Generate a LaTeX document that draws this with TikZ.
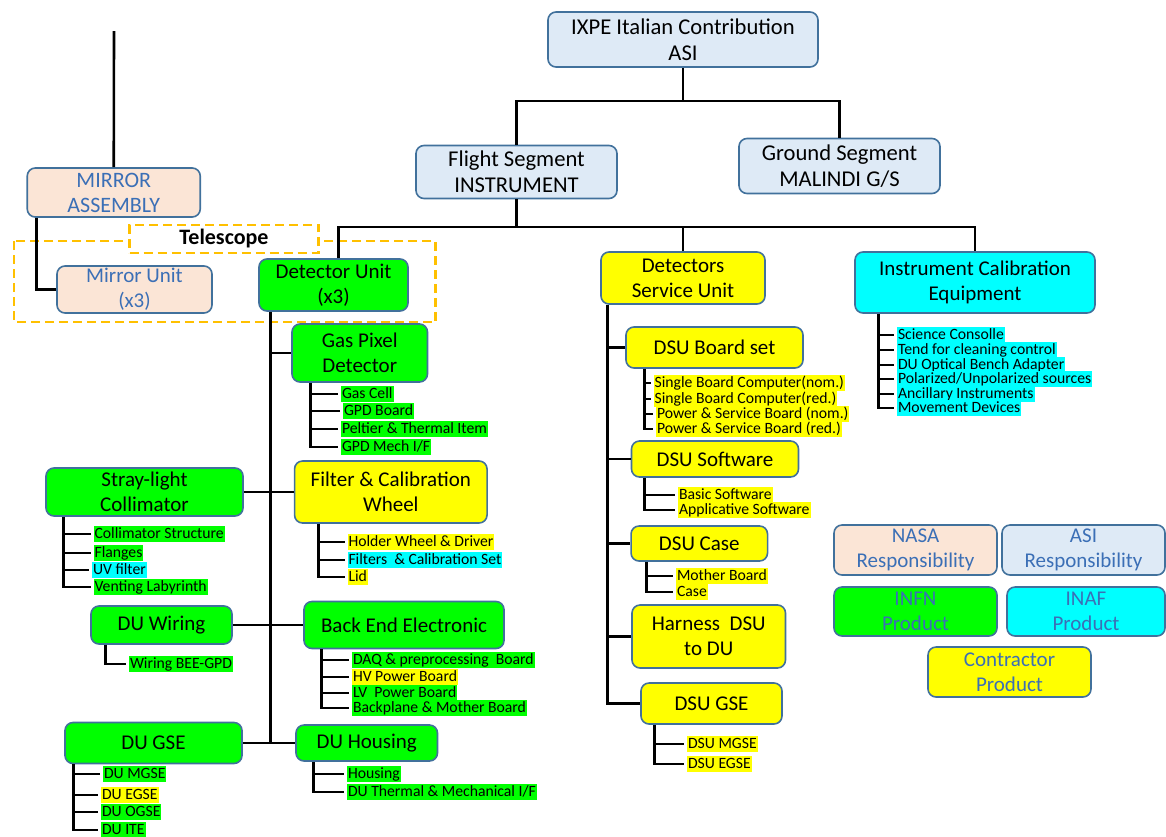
\documentclass[tikz,border=0pt]{standalone}
\usepackage{fontspec}
\setmainfont{Carlito}
\definecolor{boxline}{HTML}{41719C}
\definecolor{asiblue}{HTML}{DEEAF6}
\definecolor{nasapeach}{HTML}{FBE5D6}
\definecolor{infngreen}{HTML}{00FF00}
\definecolor{contryellow}{HTML}{FFFF00}
\definecolor{inafcyan}{HTML}{00FFFF}
\definecolor{legblue}{HTML}{3B6FB6}
\definecolor{teleorange}{HTML}{FFC000}
\newcommand\wbsfont{\fontsize{21}{25}\selectfont}
\newcommand\topfont{\fontsize{22.6}{26}\selectfont}
\newcommand\itemfont{\fontsize{15.7}{15.7}\selectfont}
\tikzset{
  wbs/.style={draw=boxline, line width=1.6pt, rounded corners=8pt, align=center, font=\wbsfont, inner sep=1pt},
  wh/.style 2 args={minimum width=#1pt, minimum height=#2pt},
  asibox/.style={wbs, fill=asiblue},
  nasabox/.style={wbs, fill=nasapeach},
  infnbox/.style={wbs, fill=infngreen},
  contrbox/.style={wbs, fill=contryellow},
  inafbox/.style={wbs, fill=inafcyan},
  item/.style={anchor=west, font=\itemfont, inner xsep=1pt, inner ysep=0pt, text height=12pt, text depth=4pt, outer xsep=3pt},
  tree/.style={line width=2.6pt},
  telebox/.style={draw=teleorange, line width=2.6pt, dash pattern=on 9pt off 5pt},
}
\begin{document}
\begin{tikzpicture}[x=1pt,y=-1pt]
\useasboundingbox (0,0) rectangle (1166,836);
% telescope frame
\draw[telebox] (14,241) rectangle (435.5,322);
\node[telebox, fill=white, wh={189}{28}, inner sep=0pt, font=\fontsize{22}{26}\selectfont\bfseries] (tele) at (224,239) {Telescope};
% top levels
\node[asibox, font=\topfont, wh={270}{55}] (ixpe) at (683,39.5) {IXPE Italian Contribution\\ASI};
\node[asibox, font=\topfont, wh={201}{53}] (flight) at (516.5,172) {Flight Segment\\INSTRUMENT};
\node[asibox, font=\topfont, wh={201}{55}] (ground) at (839.5,166) {Ground Segment\\MALINDI G/S};
% mirror and detector units
\node[nasabox, text=legblue, font=\fontsize{22}{25}\selectfont, wh={173}{49}] (massy) at (113.75,192.5) {MIRROR\\ASSEMBLY};
\node[nasabox, text=legblue, wh={155}{47}] (munit) at (134.5,289.5) {Mirror Unit\\(x3)};
\node[infnbox, wh={149}{52}] (du) at (333.5,285) {Detector Unit\\(x3)};
% detector unit parts
\node[infnbox, wh={135.5}{58}] (gpd) at (359.75,353) {Gas Pixel\\Detector};
\node[contrbox, wh={192.5}{62}] (fcw) at (390.8,492) {Filter \& Calibration\\Wheel};
\node[infnbox, wh={197}{48}] (stray) at (144.5,492) {Stray-light\\Collimator};
\node[infnbox, wh={141}{38}] (duwir) at (161.5,625) {DU Wiring};
\node[infnbox, wh={200}{47}] (bee) at (404,625) {Back End Electronic};
\node[infnbox, wh={177}{41}] (dugse) at (153.5,743) {DU GSE};
\node[infnbox, wh={141.5}{36}] (duhou) at (366.75,743) {DU Housing};
% detectors service unit
\node[contrbox, wh={164}{52}] (dsu) at (683,278) {Detectors\\Service Unit};
\node[contrbox, wh={177}{41}] (dsubs) at (714.5,347.5) {DSU Board set};
\node[contrbox, wh={167}{36}] (dsusw) at (715,459) {DSU Software};
\node[contrbox, wh={136.5}{35}] (dsucase) at (699.3,543.5) {DSU Case};
\node[contrbox, wh={153.5}{63}] (harn) at (708.75,636.5) {Harness\ \ DSU\\to DU};
\node[contrbox, wh={141}{41}] (dsugse) at (711.5,703.5) {DSU GSE};
% calibration equipment
\node[inafbox, wh={240}{61}] (ice) at (975,282.5) {Instrument Calibration\\Equipment};
% legend
\node[nasabox, text=legblue, wh={163}{50}] (legnasa) at (915.5,550) {NASA\\Responsibility};
\node[asibox, text=legblue, wh={163}{50}] (legasi) at (1083.5,550) {ASI\\Responsibility};
\node[infnbox, text=legblue, wh={163}{49}] (leginfn) at (915.5,611.5) {INFN\\Product};
\node[inafbox, text=legblue, wh={158}{49}] (leginaf) at (1086,611.5) {INAF\\Product};
\node[contrbox, text=legblue, wh={163}{50}] (legcontr) at (1009.5,672) {Contractor\\Product};

% item lists
\node[item, fill=infngreen] (gpd1) at (338,394) {Gas Cell};
\node[item, fill=infngreen] (gpd2) at (340,411) {GPD Board};
\node[item, fill=infngreen] (gpd3) at (338,429) {Peltier \& Thermal Item};
\node[item, fill=infngreen] (gpd4) at (338,447) {GPD Mech I/F};
\node[item, fill=contryellow] (fcw1) at (344.5,542) {Holder Wheel \& Driver};
\node[item, fill=inafcyan] (fcw2) at (344.5,560) {Filters\ \ \& Calibration Set};
\node[item, fill=contryellow] (fcw3) at (344.5,577) {Lid};
\node[item, fill=infngreen] (str1) at (90.6,534) {Collimator Structure};
\node[item, fill=infngreen] (str2) at (90.6,553) {Flanges};
\node[item, fill=inafcyan] (str3) at (89,570) {UV filter};
\node[item, fill=infngreen] (str4) at (90.6,587) {Venting Labyrinth};
\node[item, fill=infngreen] (wir1) at (126,664) {Wiring BEE-GPD};
\node[item, fill=infngreen] (bee1) at (349,660) {DAQ \& preprocessing\ \ Board};
\node[item, fill=contryellow] (bee2) at (349,677) {HV Power Board};
\node[item, fill=infngreen] (bee3) at (349,693) {LV\ \ Power Board};
\node[item, fill=infngreen] (bee4) at (349,708) {Backplane \& Mother Board};
\node[item, fill=infngreen] (gse1) at (100,774) {DU MGSE};
\node[item, fill=contryellow] (gse2) at (98,795) {DU EGSE};
\node[item, fill=infngreen] (gse3) at (98,812) {DU OGSE};
\node[item, fill=infngreen] (gse4) at (98,830) {DU ITE};
\node[item, fill=infngreen] (hou1) at (344,774) {Housing};
\node[item, fill=infngreen] (hou2) at (344,792) {DU Thermal \& Mechanical I/F};
\node[item, fill=contryellow] (bs1) at (650.6,383) {Single Board Computer(nom.)};
\node[item, fill=contryellow] (bs2) at (650.6,399) {Single Board Computer(red.)};
\node[item, fill=contryellow] (bs3) at (653,414) {Power \& Service Board (nom.)};
\node[item, fill=contryellow] (bs4) at (653,429) {Power \& Service Board (red.)};
\node[item, fill=contryellow] (sw1) at (675,495) {Basic Software};
\node[item, fill=contryellow] (sw2) at (675,510) {Applicative Software};
\node[item, fill=contryellow] (cs1) at (673,576) {Mother Board};
\node[item, fill=contryellow] (cs2) at (673,592) {Case};
\node[item, fill=contryellow] (dg1) at (684,744) {DSU MGSE};
\node[item, fill=contryellow] (dg2) at (684,764) {DSU EGSE};
\node[item, fill=inafcyan] (ice1) at (894,335) {Science Consolle};
\node[item, fill=inafcyan] (ice2) at (894,350) {Tend for cleaning control};
\node[item, fill=inafcyan] (ice3) at (894,365) {DU Optical Bench Adapter};
\node[item, fill=inafcyan] (ice4) at (894,379) {Polarized/Unpolarized sources};
\node[item, fill=inafcyan] (ice5) at (894,394) {Ancillary Instruments};
\node[item, fill=inafcyan] (ice6) at (894,408) {Movement Devices};

% upper tree
\coordinate (mtop) at (114,31);
\coordinate (topbar) at (683,101);
\coordinate (midbar) at (516.5,227);
\draw[tree] (mtop) -- (massy.north);
\draw[tree] (ixpe.south) -- (topbar);
\draw[tree] (flight.north) |- (topbar) -| (ground.north);
\draw[tree] (flight.south) -- (midbar);
\draw[tree] ([xshift=5]du.north) |- (midbar) -| (ice.north);
\draw[tree] (dsu.north) -- (dsu.north |- midbar);
\draw[tree] ([xshift=10]massy.south west) |- (munit.west);

% detector unit branches
\coordinate (duT) at ([xshift=12]du.south west);
\draw[tree] (duT) -- (duT |- dugse.east);
\draw[tree] (duT |- gpd.west) -- (gpd.west);
\draw[tree] (stray.east) -- (fcw.west);
\draw[tree] (duwir.east) -- (duwir.east -| bee.west);
\draw[tree] (dugse.east) -- (dugse.east -| duhou.west);

% DSU branches
\coordinate (dsuT) at ([xshift=7]dsu.south west);
\draw[tree] (dsuT) |- (dsugse.west);
\foreach \n in {dsubs,dsusw,dsucase,harn}
  \draw[tree] (dsuT |- \n.west) -- (\n.west);

% item ticks
\coordinate (gpdT) at ([xshift=19]gpd.south west);
\draw[tree] (gpdT) |- (gpd4.west);
\foreach \i in {1,2,3} \draw[tree] (gpdT |- gpd\i.west) -- (gpd\i.west);
\coordinate (fcwT) at ([xshift=24.5]fcw.south west);
\draw[tree] (fcwT) |- (fcw3.west);
\foreach \i in {1,2} \draw[tree] (fcwT |- fcw\i.west) -- (fcw\i.west);
\coordinate (strT) at ([xshift=18]stray.south west);
\draw[tree] (strT) |- (str4.west);
\foreach \i in {1,2,3} \draw[tree] (strT |- str\i.west) -- (str\i.west);
\draw[tree] ([xshift=15]duwir.south west) |- (wir1.west);
\coordinate (beeT) at ([xshift=18]bee.south west);
\draw[tree] (beeT) |- (bee4.west);
\foreach \i in {1,2,3} \draw[tree] (beeT |- bee\i.west) -- (bee\i.west);
\coordinate (gseT) at ([xshift=9]dugse.south west);
\draw[tree] (gseT) |- (gse4.west);
\foreach \i in {1,2,3} \draw[tree] (gseT |- gse\i.west) -- (gse\i.west);
\coordinate (houT) at ([xshift=18]duhou.south west);
\draw[tree] (houT) |- (hou2.west);
\draw[tree] (houT |- hou1.west) -- (hou1.west);
\coordinate (bsT) at ([xshift=19]dsubs.south west);
\draw[tree] (bsT) |- (bs4.west);
\foreach \i in {1,2,3} \draw[tree] (bsT |- bs\i.west) -- (bs\i.west);
\coordinate (swT) at ([xshift=13.5]dsusw.south west);
\draw[tree] (swT) |- (sw2.west);
\draw[tree] (swT |- sw1.west) -- (sw1.west);
\coordinate (csT) at ([xshift=16]dsucase.south west);
\draw[tree] (csT) |- (cs2.west);
\draw[tree] (csT |- cs1.west) -- (cs1.west);
\coordinate (dgT) at ([xshift=14]dsugse.south west);
\draw[tree] (dgT) |- (dg2.west);
\draw[tree] (dgT |- dg1.west) -- (dg1.west);
\coordinate (iceT) at ([xshift=24]ice.south west);
\draw[tree] (iceT) |- (ice6.west);
\foreach \i in {1,...,5} \draw[tree] (iceT |- ice\i.west) -- (ice\i.west);
\end{tikzpicture}
\end{document}
